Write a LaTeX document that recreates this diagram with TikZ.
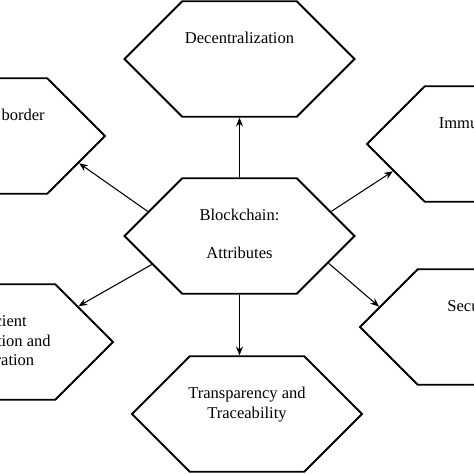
\documentclass[tikz,border=0pt]{standalone}
\usepackage{fontspec}
\setmainfont{Liberation Serif}
\usetikzlibrary{shapes.symbols,arrows.meta}

\tikzset{
  hexbox/.style={draw, line width=1.1pt, shape=signal, signal to=east and west,
    signal pointer angle=90, minimum width=4.6cm, minimum height=2.31cm, inner sep=0pt},
  hextext/.style={font=\fontsize{9.4}{11}\selectfont, align=center, anchor=north,
    inner sep=0pt, yshift=-18pt},
  attrarrow/.style={-{Stealth[length=5pt,width=4pt]}, line width=0.6pt}
}

\begin{document}
\begin{tikzpicture}[x=0.02cm, y=-0.02cm]
  %%%%% START %%%%%
  \useasboundingbox (0,0) rectangle (474,474);

  \node[hexbox] (hub) at (239.5, 236) {};
  \node[hextext] (hub-t) at (hub.north) {Blockchain:\\[10.5pt]Attributes};

  \node[hexbox] (decent) at (239.5, 59) {};
  \node[hextext] (decent-t) at (decent.north) {Decentralization};

  \node[hexbox] (cross) at (-10, 136) {};
  \node[hextext, xshift=7pt] (cross-t) at (cross.north) {Cross border};

  \node[hexbox] (immu) at (482, 144) {};
  \node[hextext] (immu-t) at (immu.north) {Immutability};

  \node[hexbox] (effic) at (-2, 342) {};
  \node[hextext] (effic-t) at (effic.north) {Efficient\\Transaction and\\Integration};

  \node[hexbox] (secu) at (475, 327) {};
  \node[hextext] (secu-t) at (secu.north) {Security};

  \node[hexbox] (trans) at (247, 414) {};
  \node[hextext] (trans-t) at (trans.north) {Transparency and\\Traceability};

  % arrows out of the hub
  \draw[attrarrow] (hub.north) -- (decent.south);
  \draw[attrarrow] (hub.165) -- (cross.-17);
  \draw[attrarrow] (hub.15) -- (immu.197);
  \draw[attrarrow] (hub.198) -- (effic.24);
  \draw[attrarrow] (hub.-17) -- (secu.168);
  \draw[attrarrow] (hub.south) -- (hub.south |- trans.north);
  %%%%% END %%%%%
\end{tikzpicture}
\end{document}
